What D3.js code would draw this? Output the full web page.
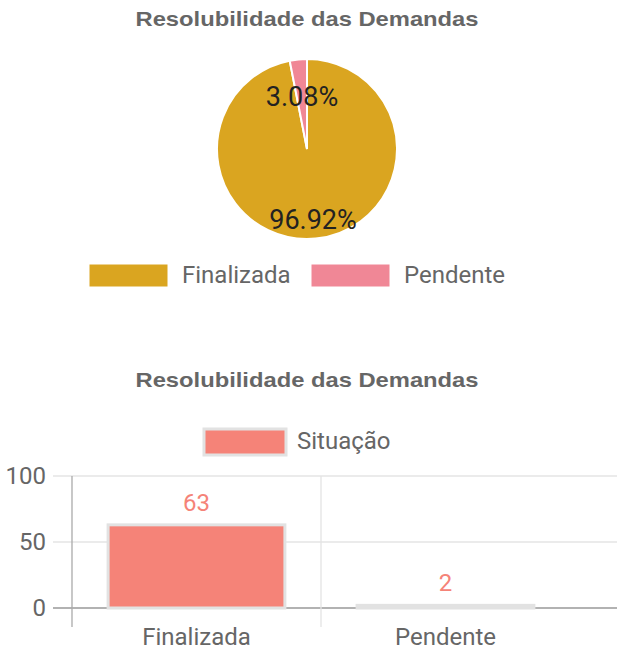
<!DOCTYPE html>
<html lang="pt">
<head>
  <meta charset="UTF-8">
  <title>Resolubilidade das Demandas</title>
  <style>
    body { margin: 0; background: #fff; font-family: Roboto, "Liberation Sans", Arial, sans-serif; }
    svg { display: block; }
  </style>
</head>
<body>
  <svg id="chart" width="617" height="653"></svg>

  <script src="https://d3js.org/d3.v7.min.js"></script>
  <script>
    // Data
    const categories = ["Finalizada", "Pendente"];
    const values = [63, 2];
    const pieColors = ["#DAA520", "#F08796"];
    const barSeries = "Situação";
    const yTicks = [0, 50, 100];
    const title = "Resolubilidade das Demandas";

    const svg = d3.select("#chart");
    const grey = "#666";
    const fs = 24;

    function addTitle(y) {
      svg.append("text")
        .attr("x", 307).attr("y", y)
        .attr("text-anchor", "middle")
        .attr("font-family", "Arial, 'Liberation Sans', sans-serif")
        .attr("font-weight", "bold")
        .attr("font-size", 21)
        .attr("textLength", 343)
        .attr("lengthAdjust", "spacingAndGlyphs")
        .attr("fill", grey)
        .text(title);
    }

    // ---------- Pie chart ----------
    addTitle(26);

    const total = d3.sum(values);
    const pie = d3.pie().sort(null).value(d => d)(values);
    const radius = 90;
    const arc = d3.arc().innerRadius(0).outerRadius(radius);

    const pieG = svg.append("g").attr("transform", "translate(307,149)");
    pieG.selectAll("path")
      .data(pie)
      .enter()
      .append("path")
      .attr("d", arc)
      .attr("fill", (d, i) => pieColors[i])
      .attr("stroke", "#fff")
      .attr("stroke-width", 2);

    // percentage labels
    const labelPos = [[6, 71], [-5, -52]];
    pieG.selectAll(".pct")
      .data(pie)
      .enter()
      .append("text")
      .attr("class", "pct")
      .attr("x", (d, i) => labelPos[i][0])
      .attr("y", (d, i) => labelPos[i][1])
      .attr("text-anchor", "middle")
      .attr("dominant-baseline", "central")
      .attr("font-size", 27)
      .attr("fill", "#222")
      .text(d => (d.value / total * 100).toFixed(2) + "%");

    // legend
    const legX = [89, 311];
    categories.forEach((c, i) => {
      svg.append("rect")
        .attr("x", legX[i]).attr("y", 264)
        .attr("width", 79).attr("height", 23)
        .attr("fill", pieColors[i])
        .attr("stroke", "#fff").attr("stroke-width", 1);
      svg.append("text")
        .attr("x", legX[i] + 93).attr("y", 275)
        .attr("dominant-baseline", "central")
        .attr("font-size", fs)
        .attr("fill", grey)
        .text(c);
    });

    // ---------- Bar chart ----------
    addTitle(387);

    // legend
    svg.append("rect")
      .attr("x", 204).attr("y", 429)
      .attr("width", 82).attr("height", 26)
      .attr("fill", "#F58378")
      .attr("stroke", "#e2e2e2").attr("stroke-width", 3);
    svg.append("text")
      .attr("x", 297).attr("y", 441)
      .attr("dominant-baseline", "central")
      .attr("font-size", fs)
      .attr("fill", grey)
      .text(barSeries);

    const x = d3.scaleBand().domain(categories).range([72, 570]).paddingInner(0).paddingOuter(0);
    const y = d3.scaleLinear().domain([0, 100]).range([608, 476]);

    // horizontal grid
    svg.append("g").selectAll("line")
      .data(yTicks)
      .enter()
      .append("line")
      .attr("x1", 53).attr("x2", 617)
      .attr("y1", d => y(d)).attr("y2", d => y(d))
      .attr("stroke", d => d === 0 ? "#999" : "#e4e4e4")
      .attr("stroke-width", 1.3);

    // vertical grid between categories
    svg.append("line")
      .attr("x1", x("Pendente")).attr("x2", x("Pendente"))
      .attr("y1", y(100)).attr("y2", 627)
      .attr("stroke", "#e4e4e4").attr("stroke-width", 1.3);

    // y axis line
    svg.append("line")
      .attr("x1", 72).attr("x2", 72)
      .attr("y1", y(100)).attr("y2", 627)
      .attr("stroke", "#aaa").attr("stroke-width", 1.3);

    // y tick labels
    svg.append("g").selectAll("text")
      .data(yTicks)
      .enter()
      .append("text")
      .attr("x", 46)
      .attr("y", d => y(d))
      .attr("text-anchor", "end")
      .attr("dominant-baseline", "central")
      .attr("font-size", fs)
      .attr("fill", grey)
      .text(d => d);

    // bars
    const barW = x.bandwidth() * 0.71;
    svg.append("g").selectAll("rect")
      .data(values)
      .enter()
      .append("rect")
      .attr("x", (d, i) => x(categories[i]) + (x.bandwidth() - barW) / 2)
      .attr("y", d => y(d))
      .attr("width", barW)
      .attr("height", d => y(0) - y(d))
      .attr("fill", "#F58378")
      .attr("stroke", "#e2e2e2")
      .attr("stroke-width", 3);

    // value labels
    svg.append("g").selectAll("text")
      .data(values)
      .enter()
      .append("text")
      .attr("x", (d, i) => x(categories[i]) + x.bandwidth() / 2)
      .attr("y", d => y(d) - 22)
      .attr("text-anchor", "middle")
      .attr("dominant-baseline", "central")
      .attr("font-size", fs)
      .attr("fill", "#F58378")
      .text(d => d);

    // x tick labels
    svg.append("g").selectAll("text")
      .data(categories)
      .enter()
      .append("text")
      .attr("x", d => x(d) + x.bandwidth() / 2)
      .attr("y", 637)
      .attr("text-anchor", "middle")
      .attr("dominant-baseline", "central")
      .attr("font-size", fs)
      .attr("fill", grey)
      .text(d => d);
  </script>
</body>
</html>
